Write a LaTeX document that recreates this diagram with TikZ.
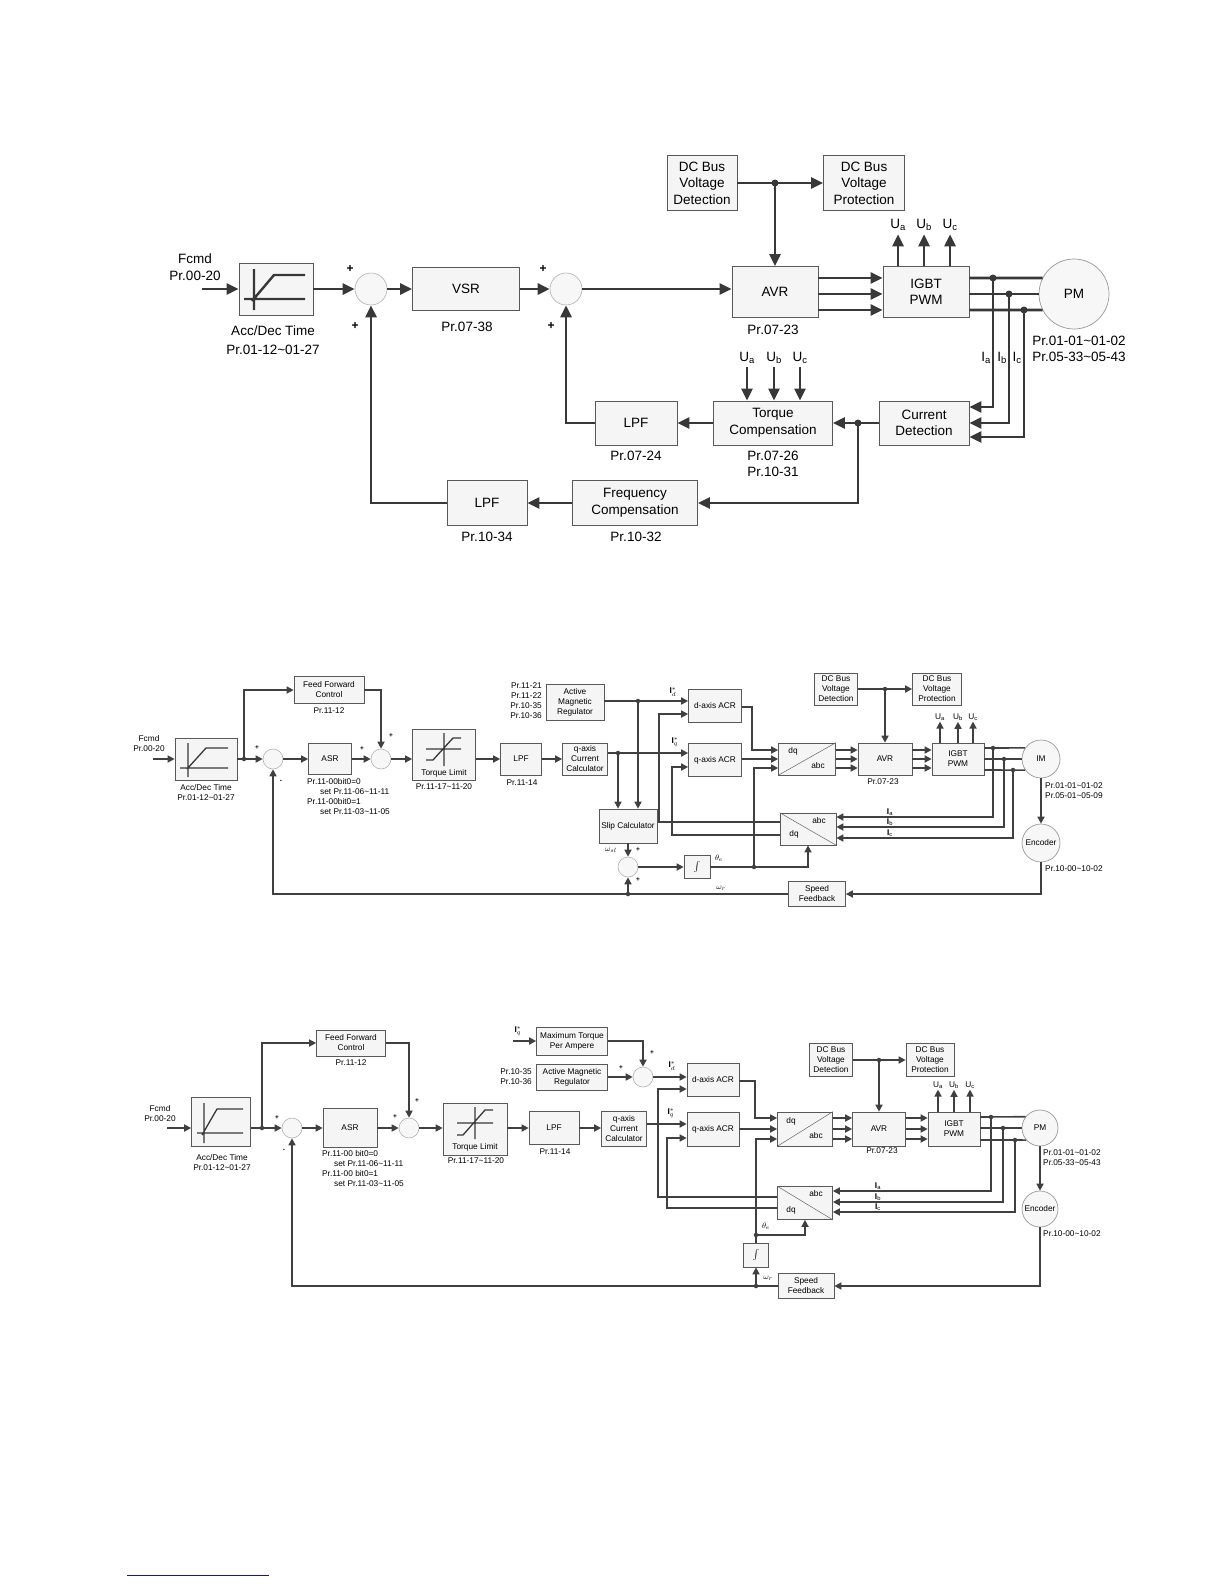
\documentclass[tikz,border=0pt]{standalone}
\usepackage{fontspec}
\setmainfont{Liberation Sans}
\usetikzlibrary{arrows.meta}
\definecolor{rulec}{RGB}{25,25,112}

\begin{document}
\begin{tikzpicture}[x=1pt, y=-1pt,
	blk/.style={draw=black!65, fill=black!4, line width=0.7pt, inner sep=0pt, align=center},
	sumc/.style={circle, draw=black!30, fill=black!3, line width=0.6pt, inner sep=0pt},
	motor/.style={circle, draw=black!40, fill=black!3, line width=0.7pt, inner sep=0pt, align=center},
	fT/.style={font=\fontsize{13.5}{16.5}\selectfont},
	fS/.style={font=\fontsize{8.3}{10}\selectfont},
	wT/.style={draw=black!78, line width=2.6pt},
	aT/.style={wT, -{Triangle[length=12pt,width=11pt]}},
	wS/.style={draw=black!75, line width=1.6pt},
	aS/.style={wS, -{Triangle[length=7pt,width=7pt]}},
	dotT/.style={circle, fill=black!78, inner sep=0pt, minimum size=7pt},
	dotS/.style={circle, fill=black!75, inner sep=0pt, minimum size=4.5pt},
	sgnT/.style={font=\fontsize{12}{12}\bfseries\selectfont},
	sgnS/.style={font=\fontsize{6.5}{6.5}\bfseries\selectfont}]

	\useasboundingbox (0,0) rectangle (1224,1584);

	\node[fT, align=center] (tfcmd) at (195,267) {Fcmd\\Pr.00-20};
	\coordinate (tin) at (202,289);
	\node[blk, minimum width=74pt, minimum height=52pt] (tacc) at (276,289) {};
	\draw[draw=black!78, line width=2.4pt, shift={(tacc.center)}] (-22,-20) -- (-22,21) (-32,10) -- (29,10) (-24,12) -- (-2,-14) -- (29,-14);
	\node[fT, align=center] (taccl) at (273,340) {Acc/Dec Time\\[2pt]Pr.01-12\textasciitilde01-27};
	\node[sumc, minimum size=32pt] (tsumA) at (371,289) {};
	\node[blk, fT, minimum width=107pt, minimum height=43pt] (tvsr) at (466,289) {VSR};
	\node[fT] (tvsrl) at (467,327) {Pr.07-38};
	\node[sumc, minimum size=32pt] (tsumB) at (566,289) {};
	\node[blk, fT, minimum width=86pt, minimum height=51pt] (tavr) at (775,292) {AVR};
	\node[fT] (tavrl) at (773,330) {Pr.07-23};
	\node[blk, fT, minimum width=86pt, minimum height=51pt] (tigbt) at (926,292) {IGBT\\PWM};
	\node[motor, fT, minimum size=70pt] (tpm) at (1074,294) {PM};
	\node[fT, align=center] (tpml) at (1079,349) {Pr.01-01\textasciitilde01-02\\Pr.05-33\textasciitilde05-43};
	\node[blk, fT, minimum width=70pt, minimum height=55pt] (tdcd) at (702,183) {DC Bus\\Voltage\\Detection};
	\node[blk, fT, minimum width=81pt, minimum height=55pt] (tdcp) at (864,183) {DC Bus\\Voltage\\Protection};
	\node[dotT] (tj1) at (tavr.north |- tdcd.east) {};
	\node[blk, fT, minimum width=90pt, minimum height=44pt] (tcur) at (924,423) {Current\\Detection};
	\node[blk, fT, minimum width=119pt, minimum height=44pt] (ttq) at (773,423) {Torque\\Compensation};
	\node[fT, align=center] (ttql) at (773,464) {Pr.07-26\\Pr.10-31};
	\node[blk, fT, minimum width=82pt, minimum height=44pt] (tlpfA) at (636,423) {LPF};
	\node[fT] (tlpfAl) at (636,456) {Pr.07-24};
	\node[blk, fT, minimum width=125pt, minimum height=45pt] (tfrq) at (635,503) {Frequency\\Compensation};
	\node[fT] (tfrql) at (636,537) {Pr.10-32};
	\node[blk, fT, minimum width=80pt, minimum height=45pt] (tlpfB) at (487,503) {LPF};
	\node[fT] (tlpfBl) at (487,537) {Pr.10-34};
	\node[dotT] (tj2) at (858,423) {};
	\foreach \xx/\yy [count=\i] in {350/269, 355/326, 543/269, 551/326} \node[sgnT] (tsg\i) at (\xx,\yy) {+};

	\draw[aT] (tin) -- (tacc.west);
	\draw[aT] (tacc) -- (tsumA);
	\draw[aT] (tsumA) -- (tvsr);
	\draw[aT] (tvsr) -- (tsumB);
	\draw[aT] (tsumB) -- (tsumB -| tavr.west);
	\draw[aT] (tdcd) -- (tdcp);
	\draw[aT] (tj1.center) -- (tavr.north);
	\foreach \yy in {278,294,310} \draw[aT] (tavr.east |- 0,\yy) -- (tigbt.west |- 0,\yy);
	\foreach \xx/\s in {898/a,924/b,950/c} {
		\node[fT] (tU\s) at (\xx,225) {U\textsubscript{\s}};
		\draw[aT] (tigbt.north -| tU\s) -- (tU\s.south);
	}
	\foreach \xx/\yy/\ye/\s/\aa in {993/278/407/a/153, 1009/294/423/b/180, 1024/310/437/c/207} {
		\draw[wT] (tigbt.east |- 0,\yy) -- (tpm.\aa);
		\node[dotT] (tk\s) at (\xx,\yy) {};
		\draw[aT] (tk\s.center) |- (tcur.east |- 0,\ye);
		\node[fT, inner sep=0pt] (tI\s) at (\xx-7,358) {I\textsubscript{\s}};
	}
	\draw[aT] (tcur) -- (ttq);
	\draw[aT] (tj2.center) |- (tfrq.east);
	\foreach \xx/\s in {747/a,774/b,800/c} {
		\node[fT] (tV\s) at (\xx,358) {U\textsubscript{\s}};
		\draw[aT] (tV\s.south) -- (ttq.north -| tV\s);
	}
	\draw[aT] (ttq) -- (tlpfA);
	\draw[aT] (tlpfA.west) -| (tsumB.south);
	\draw[aT] (tfrq) -- (tlpfB);
	\draw[aT] (tlpfB.west) -| (tsumA.south);

	\node[fS, align=center] (mfcmd) at (149,744) {Fcmd\\Pr.00-20};
	\coordinate (min) at (153,759);
	\node[blk, minimum width=62pt, minimum height=42pt] (macc) at (206,759) {};
	\draw[draw=black!78, line width=1.3pt, shift={(macc.center)}] (-18,-16) -- (-18,18) (-26,9) -- (22,9) (-19,10) -- (0,-11) -- (22,-11);
	\node[fS, align=center] (maccl) at (206,793) {Acc/Dec Time\\Pr.01-12\textasciitilde01-27};
	\node[dotS] (mj1) at (244,759) {};
	\node[blk, fS, minimum width=70pt, minimum height=27pt] (mff) at (329,690) {Feed Forward\\Control};
	\node[fS] (mffl) at (329,711) {Pr.11-12};
	\node[sumc, minimum size=20pt] (msumA) at (273,759) {};
	\node[blk, fS, minimum width=43pt, minimum height=31pt] (masr) at (330,759) {ASR};
	\node[fS, align=left, anchor=north west, inner sep=0pt] (masrl) at (307,778) {Pr.11-00bit0=0\\\hspace*{13pt}set Pr.11-06\textasciitilde11-11\\Pr.11-00bit0=1\\\hspace*{13pt}set Pr.11-03\textasciitilde11-05};
	\node[sumc, minimum size=20pt] (msumB) at (381,759) {};
	\node[blk, minimum width=63pt, minimum height=51pt] (mtl) at (444,755) {};
	\draw[draw=black!78, line width=1.3pt, shift={(mtl.center)}] (0,-22) -- (0,11) (-18,-6) -- (17,-6) (-18,5) -- (-11,5) -- (9,-17) -- (17,-17);
	\node[fS] (mtlt) at (444,773) {Torque Limit};
	\node[fS] (mtll) at (444,787) {Pr.11-17\textasciitilde11-20};
	\node[blk, fS, minimum width=41pt, minimum height=32pt] (mlpf) at (521,759) {LPF};
	\node[fS] (mlpfl) at (522,783) {Pr.11-14};
	\node[blk, fS, minimum width=45pt, minimum height=32pt] (mqcc) at (585,759) {q-axis\\Current\\Calculator};
	\node[blk, fS, minimum width=58pt, minimum height=36pt] (mamr) at (575,702) {Active\\Magnetic\\Regulator};
	\node[fS, align=right, anchor=east, inner sep=0pt] (mamrl) at (542,701) {Pr.11-21\\Pr.11-22\\Pr.10-35\\Pr.10-36};
	\node[blk, fS, minimum width=53pt, minimum height=33pt] (mdacr) at (715,706) {d-axis ACR};
	\node[blk, fS, minimum width=53pt, minimum height=33pt] (mqacr) at (715,760) {q-axis ACR};
	\node[fS] (mid) at (673,692) {\textbf{I}$^{*}_{d}$};
	\node[fS] (miq) at (675,742) {\textbf{I}$^{*}_{q}$};
	\node[dotS] (mj2) at (618,753) {};
	\node[dotS] (mj3) at (638,701) {};
	\node[blk, fS, minimum width=58pt, minimum height=34pt] (mslip) at (628,826) {Slip Calculator};
	\node[sumc, minimum size=20pt] (msumC) at (628,867) {};
	\node[blk, fS, minimum width=26pt, minimum height=23pt] (mint) at (697,867) {$\int$};
	\node[dotS] (mj4) at (754,867) {};
	\node[blk, minimum width=57pt, minimum height=32pt] (mdq1) at (807,759) {};
	\draw[black!60, line width=0.5pt] (mdq1.south west) -- (mdq1.north east);
	\node[fS] (mdq1a) at (793,751) {dq};
	\node[fS] (mdq1b) at (818,766) {abc};
	\node[blk, minimum width=56pt, minimum height=32pt] (mdq2) at (808,829) {};
	\draw[black!60, line width=0.5pt] (mdq2.north west) -- (mdq2.south east);
	\node[fS] (mdq2a) at (819,821) {abc};
	\node[fS] (mdq2b) at (794,834) {dq};
	\node[blk, fS, minimum width=54pt, minimum height=32pt] (mavr) at (885,759) {AVR};
	\node[fS] (mavrl) at (883,782) {Pr.07-23};
	\node[blk, fS, minimum width=43pt, minimum height=32pt] (mdcd) at (836,689) {DC Bus\\Voltage\\Detection};
	\node[blk, fS, minimum width=49pt, minimum height=32pt] (mdcp) at (937,689) {DC Bus\\Voltage\\Protection};
	\node[dotS] (mj5) at (mavr.north |- mdcd.east) {};
	\node[blk, fS, minimum width=52pt, minimum height=32pt] (migbt) at (958,759) {IGBT\\PWM};
	\node[motor, fS, minimum size=38pt] (mim) at (1041,759) {IM};
	\node[motor, fS, minimum size=38pt] (menc) at (1041,843) {Encoder};
	\node[fS, align=left, anchor=west, inner sep=0pt] (miml) at (1045,791) {Pr.01-01\textasciitilde01-02\\Pr.05-01\textasciitilde05-09};
	\node[fS, anchor=west, inner sep=0pt] (mencl) at (1045,869) {Pr.10-00\textasciitilde10-02};
	\node[blk, fS, minimum width=57pt, minimum height=25pt] (mspd) at (817,894) {Speed\\Feedback};
	\node[dotS] (mj6) at (628,894) {};
	\node[fS] (mwsl) at (611,850) {$\omega_{sl}$};
	\node[fS] (mwr) at (721,888) {$\omega_r$};
	\node[fS] (mthe) at (719,858) {$\theta_e$};
	\foreach \xx/\yy/\t [count=\i] in {257/748/+, 281/781/-, 362/749/+, 391/736/+, 638/850/+, 638/880/+} \node[sgnS] (msg\i) at (\xx,\yy) {\t};

	\draw[aS] (min) -- (macc.west);
	\draw[aS] (macc) -- (msumA);
	\draw[aS] (mj1.center) |- (mff.west);
	\draw[aS] (mff.east) -| (msumB.north);
	\draw[aS] (msumA) -- (masr);
	\draw[aS] (masr) -- (msumB);
	\draw[aS] (msumB) -- (msumB -| mtl.west);
	\draw[aS] (mtl.east |- mlpf) -- (mlpf.west);
	\draw[aS] (mlpf) -- (mqcc);
	\draw[aS] (mqcc.east |- mj2) -- (mqacr.west |- mj2);
	\draw[aS] (mamr.east |- mj3) -- (mdacr.west |- mj3);
	\draw[aS] (mj2.center) -- (mslip.north -| mj2);
	\draw[aS] (mj3.center) -- (mslip.north -| mj3);
	\draw[aS] (mslip) -- (msumC);
	\draw[aS] (msumC) -- (mint);
	\draw[aS] (mint.east) -| (mdq2.south);
	\draw[aS] (mj4.center) |- (mdq1.west |- 0,768);
	\draw[aS] (mdacr.east |- 0,707) -- (752,707) |- (mdq1.west |- 0,750);
	\draw[aS] (mqacr.east |- 0,759) -- (mdq1.west |- 0,759);
	\draw[aS] (mdq2.west |- 0,822) -| (659,714) -- (mdacr.west |- 0,714);
	\draw[aS] (mdq2.west |- 0,835) -| (672,767) -- (mqacr.west |- 0,767);
	\foreach \yy in {750,759,768} {
		\draw[aS] (mdq1.east |- 0,\yy) -- (mavr.west |- 0,\yy);
		\draw[aS] (mavr.east |- 0,\yy) -- (migbt.west |- 0,\yy);
	}
	\draw[aS] (mdcd) -- (mdcp);
	\draw[aS] (mj5.center) -- (mavr.north);
	\foreach \xx/\s in {940/a,958/b,973/c} {
		\node[fS, inner sep=1pt] (mU\s) at (\xx,717) {U\textsubscript{\s}};
		\draw[aS] (migbt.north -| mU\s) -- (mU\s.south);
	}
	\foreach \xx/\yy/\ye/\s/\aa in {993/748/817/a/145, 1004/759/827/b/180, 1013/770/838/c/215} {
		\draw[wS] (migbt.east |- 0,\yy) -- (mim.\aa);
		\node[dotS] (mk\s) at (\xx,\yy) {};
		\draw[aS] (mk\s.center) |- (mdq2.east |- 0,\ye);
		\node[fS, inner sep=0pt] (mI\s) at (890,\ye-5) {\textbf{I}\textsubscript{\s}};
	}
	\draw[aS] (mim) -- (menc);
	\draw[aS] (menc.south) |- (mspd.east);
	\draw[aS] (mspd.west) -| (msumA.south);
	\draw[aS] (mj6.center) -- (msumC.south);

	\node[fS, align=center] (bfcmd) at (160,1114) {Fcmd\\Pr.00-20};
	\coordinate (bin) at (167,1128);
	\node[blk, minimum width=59pt, minimum height=49pt] (bacc) at (221,1122) {};
	\draw[draw=black!78, line width=1.3pt, shift={(bacc.center)}] (-17,-19) -- (-17,21) (-24,11) -- (22,11) (-19,13) -- (-4,-13) -- (22,-13);
	\node[fS, align=center] (baccl) at (222,1163) {Acc/Dec Time\\Pr.01-12\textasciitilde01-27};
	\node[dotS] (bj1) at (262,1128) {};
	\node[blk, fS, minimum width=69pt, minimum height=26pt] (bff) at (351,1043) {Feed Forward\\Control};
	\node[fS] (bffl) at (351,1063) {Pr.11-12};
	\node[sumc, minimum size=20pt] (bsumA) at (292,1128) {};
	\node[blk, fS, minimum width=54pt, minimum height=39pt] (basr) at (350,1128) {ASR};
	\node[fS, align=left, anchor=north west, inner sep=0pt] (basrl) at (322,1150) {Pr.11-00 bit0=0\\\hspace*{12pt}set Pr.11-06\textasciitilde11-11\\Pr.11-00 bit0=1\\\hspace*{12pt}set Pr.11-03\textasciitilde11-05};
	\node[sumc, minimum size=20pt] (bsumB) at (409,1128) {};
	\node[blk, minimum width=64pt, minimum height=52pt] (btl) at (475,1129) {};
	\draw[draw=black!78, line width=1.3pt, shift={(btl.center)}] (0,-22) -- (0,10) (-18,-6) -- (18,-6) (-18,6) -- (-12,6) -- (10,-19) -- (18,-19);
	\node[fS] (btlt) at (475,1147) {Torque Limit};
	\node[fS] (btll) at (476,1161) {Pr.11-17\textasciitilde11-20};
	\node[blk, fS, minimum width=50pt, minimum height=33pt] (blpf) at (554,1128) {LPF};
	\node[fS] (blpfl) at (555,1152) {Pr.11-14};
	\node[blk, fS, minimum width=45pt, minimum height=35pt] (bqcc) at (624,1129) {q-axis\\Current\\Calculator};
	\node[blk, fS, minimum width=71pt, minimum height=28pt] (bmtpa) at (572,1041) {Maximum Torque\\Per Ampere};
	\node[blk, fS, minimum width=71pt, minimum height=26pt] (bamr) at (572,1077) {Active Magnetic\\Regulator};
	\node[fS, align=right, anchor=east, inner sep=0pt] (bamrl) at (532,1077) {Pr.10-35\\Pr.10-36};
	\node[fS] (biqin) at (518,1031) {\textbf{I}$^{*}_{q}$};
	\coordinate (bin2) at (513,1041);
	\node[sumc, minimum size=20pt] (bsumC) at (643,1077) {};
	\node[blk, fS, minimum width=52pt, minimum height=33pt] (bdacr) at (713,1080) {d-axis ACR};
	\node[blk, fS, minimum width=52pt, minimum height=34pt] (bqacr) at (713,1129) {q-axis ACR};
	\node[fS] (bid) at (672,1066) {\textbf{I}$^{*}_{d}$};
	\node[fS] (biq) at (671,1113) {\textbf{I}$^{*}_{q}$};
	\node[blk, minimum width=55pt, minimum height=34pt] (bdq1) at (805,1129) {};
	\draw[black!60, line width=0.5pt] (bdq1.south west) -- (bdq1.north east);
	\node[fS] (bdq1a) at (791,1121) {dq};
	\node[fS] (bdq1b) at (816,1136) {abc};
	\node[blk, minimum width=55pt, minimum height=33pt] (bdq2) at (805,1203) {};
	\draw[black!60, line width=0.5pt] (bdq2.north west) -- (bdq2.south east);
	\node[fS] (bdq2a) at (816,1194) {abc};
	\node[fS] (bdq2b) at (791,1210) {dq};
	\node[blk, fS, minimum width=53pt, minimum height=34pt] (bavr) at (879,1129) {AVR};
	\node[fS] (bavrl) at (882,1151) {Pr.07-23};
	\node[blk, fS, minimum width=43pt, minimum height=33pt] (bdcd) at (831,1060) {DC Bus\\Voltage\\Detection};
	\node[blk, fS, minimum width=48pt, minimum height=33pt] (bdcp) at (930,1060) {DC Bus\\Voltage\\Protection};
	\node[dotS] (bj5) at (bavr.north |- bdcd.east) {};
	\node[blk, fS, minimum width=52pt, minimum height=34pt] (bigbt) at (954,1129) {IGBT\\PWM};
	\node[motor, fS, minimum size=36pt] (bpm) at (1040,1128) {PM};
	\node[motor, fS, minimum size=36pt] (benc) at (1040,1209) {Encoder};
	\node[fS, align=left, anchor=west, inner sep=0pt] (bpml) at (1043,1158) {Pr.01-01\textasciitilde01-02\\Pr.05-33\textasciitilde05-43};
	\node[fS, anchor=west, inner sep=0pt] (bencl) at (1043,1234) {Pr.10-00\textasciitilde10-02};
	\node[blk, fS, minimum width=25pt, minimum height=24pt] (bint) at (756,1255) {$\int$};
	\node[blk, fS, minimum width=56pt, minimum height=25pt] (bspd) at (806,1286) {Speed\\Feedback};
	\node[dotS] (bj4) at (756,1235) {};
	\node[dotS] (bj6) at (bint.south |- bspd.west) {};
	\node[fS] (bthe) at (766,1226) {$\theta_e$};
	\node[fS] (bwr) at (768,1278) {$\omega_r$};
	\foreach \xx/\yy/\t [count=\i] in {277/1118/+, 284/1150/-, 395/1117/+, 417/1101/+, 652/1053/+, 621/1068/+} \node[sgnS] (bsg\i) at (\xx,\yy) {\t};

	\draw[aS] (bin) -- (bacc.west |- bin);
	\draw[aS] (bacc.east |- bsumA) -- (bsumA);
	\draw[aS] (bj1.center) |- (bff.west);
	\draw[aS] (bff.east) -| (bsumB.north);
	\draw[aS] (bsumA) -- (basr);
	\draw[aS] (basr) -- (bsumB);
	\draw[aS] (bsumB) -- (bsumB -| btl.west);
	\draw[aS] (btl.east |- blpf) -- (blpf);
	\draw[aS] (blpf) -- (bqcc.west |- blpf);
	\draw[aS] (bqcc.east |- 0,1124) -- (bqacr.west |- 0,1124);
	\draw[aS] (bin2) -- (bmtpa.west);
	\draw[aS] (bmtpa.east) -| (bsumC.north);
	\draw[aS] (bamr) -- (bsumC);
	\draw[aS] (bsumC) -- (bsumC -| bdacr.west);
	\draw[aS] (bdacr.east |- 0,1081) -- (755,1081) |- (bdq1.west |- 0,1118);
	\draw[aS] (bqacr.east |- 0,1129) -- (bdq1.west |- 0,1129);
	\draw[aS] (bint.north) |- (bdq1.west |- 0,1139);
	\draw[aS] (bj4.center) -| (bdq2.south);
	\draw[aS] (bdq2.west |- 0,1197) -| (658,1089) -- (bdacr.west |- 0,1089);
	\draw[aS] (bdq2.west |- 0,1208) -| (667,1138) -- (bqacr.west |- 0,1138);
	\foreach \yy in {1118,1129,1139} {
		\draw[aS] (bdq1.east |- 0,\yy) -- (bavr.west |- 0,\yy);
		\draw[aS] (bavr.east |- 0,\yy) -- (bigbt.west |- 0,\yy);
	}
	\draw[aS] (bdcd) -- (bdcp);
	\draw[aS] (bj5.center) -- (bavr.north);
	\foreach \xx/\s in {938/a,954/b,970/c} {
		\node[fS, inner sep=1pt] (bU\s) at (\xx,1085) {U\textsubscript{\s}};
		\draw[aS] (bigbt.north -| bU\s) -- (bU\s.south);
	}
	\foreach \xx/\yy/\ye/\s/\aa in {991/1117/1191/a/142, 1003/1128/1202/b/180, 1015/1140/1212/c/221} {
		\draw[wS] (bigbt.east |- 0,\yy) -- (bpm.\aa);
		\node[dotS] (bk\s) at (\xx,\yy) {};
		\draw[aS] (bk\s.center) |- (bdq2.east |- 0,\ye);
		\node[fS, inner sep=0pt] (bI\s) at (878,\ye-5) {\textbf{I}\textsubscript{\s}};
	}
	\draw[aS] (bpm) -- (benc);
	\draw[aS] (benc.south) |- (bspd.east);
	\draw[aS] (bspd.west) -| (bsumA.south);
	\draw[aS] (bj6.center) -- (bint.south);

	\coordinate (fnA) at (127,1575);
	\coordinate (fnB) at (269,1575);
	\draw[rulec, line width=1pt] (fnA) -- (fnB);
\end{tikzpicture}
\end{document}
